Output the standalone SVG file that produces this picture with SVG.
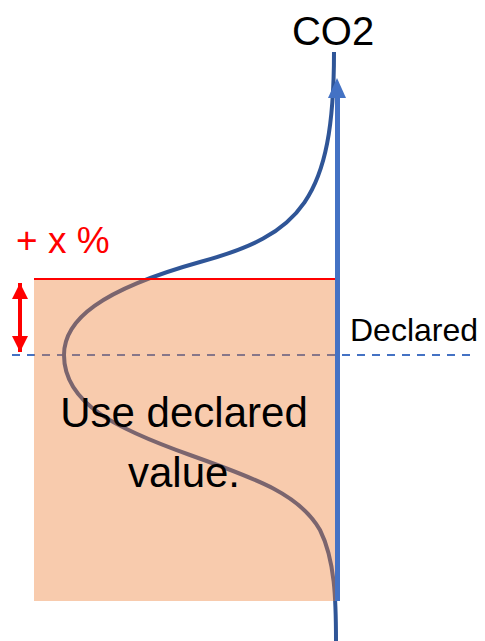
<svg xmlns="http://www.w3.org/2000/svg" width="485" height="641" viewBox="0 0 485 641">
<style>
.lbl{font-family:"Liberation Sans","Open Sans",Arial,sans-serif;}
</style>
<defs>
<marker id="redhead" viewBox="0 0 10 10" refX="10" refY="5" markerWidth="4" markerHeight="4" orient="auto-start-reverse" markerUnits="strokeWidth">
<path d="M0,0 L10,5 L0,10 z" fill="#FF0000"/>
</marker>
</defs>
<rect width="485" height="641" fill="#FFFFFF"/>
<g id="connectors">
<line x1="12" y1="355" x2="470" y2="355" stroke="#4472C4" stroke-width="2" stroke-dasharray="8,7"/>
<path id="curve" d="M334,52 C334,200 300,235 200,262 C100,290 64,320 64,355 C64,405 120,430 190,455 C260,480 300,495 320,530 C335,560 336,600 336,641" fill="none" stroke="#2F5597" stroke-width="4"/>
</g>
<g id="box">
<rect x="34" y="279" width="301" height="322" fill="#ED7D31" fill-opacity="0.4"/>
<line x1="34" y1="279" x2="335" y2="279" stroke="#FF0000" stroke-width="2"/>
<text class="lbl" x="184" y="427" font-size="42" text-anchor="middle" fill="#000">Use declared</text>
<text class="lbl" x="184" y="487" font-size="42" text-anchor="middle" fill="#000">value.</text>
</g>
<g id="axis">
<line x1="337.5" y1="601" x2="337.5" y2="92" stroke="#4472C4" stroke-width="5"/>
<polygon points="337,78 346,98 328,98" fill="#4472C4"/>
<text class="lbl" x="333" y="45" font-size="40" text-anchor="middle" fill="#000">CO2</text>
</g>
<g id="declared">
<text class="lbl" x="350" y="341" font-size="32" fill="#000">Declared</text>
</g>
<g id="tolerance">
<line x1="20" y1="283" x2="20" y2="352" stroke="#FF0000" stroke-width="4" marker-start="url(#redhead)" marker-end="url(#redhead)"/>
<text class="lbl" x="16" y="253" font-size="37" fill="#FF0000">+ x %</text>
</g>
</svg>
